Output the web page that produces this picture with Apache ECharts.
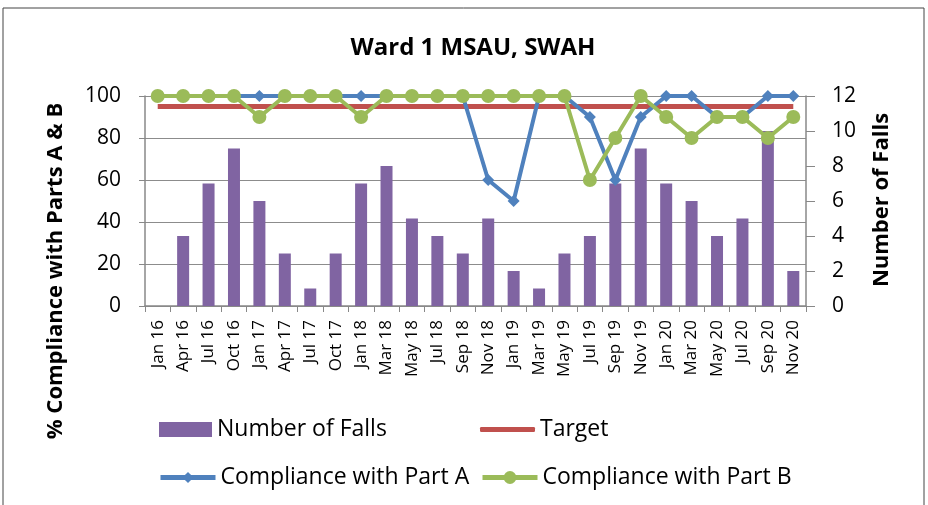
<!DOCTYPE html>
<html><head><meta charset="utf-8">
<script src="https://cdn.jsdelivr.net/npm/echarts@6/dist/echarts.min.js"></script>
<style>html,body{margin:0;padding:0;background:#fff}#c{width:928px;height:505px}</style>
</head><body><div id="c"></div>
<script>
const categories = ['Jan 16','Apr 16','Jul 16','Oct 16','Jan 17','Apr 17','Jul 17','Oct 17','Jan 18','Mar 18','May 18','Jul 18','Sep 18','Nov 18','Jan 19','Mar 19','May 19','Jul 19','Sep 19','Nov 19','Jan 20','Mar 20','May 20','Jul 20','Sep 20','Nov 20'];
const falls = [0,4,7,9,6,3,1,3,7,8,5,4,3,5,2,1,3,4,7,9,7,6,4,5,10,2];
const target = [95,95,95,95,95,95,95,95,95,95,95,95,95,95,95,95,95,95,95,95,95,95,95,95,95,95];
const partA = [100,100,100,100,100,100,100,100,100,100,100,100,100,60,50,100,100,90,60,90,100,100,90,90,100,100];
const partB = [100,100,100,100,90,100,100,100,90,100,100,100,100,100,100,100,100,60,80,100,90,80,90,90,80,90];

const font = 'Open Sans';
const chart = echarts.init(document.getElementById('c'));
const legendBase = {orient:'horizontal', itemWidth:55, itemHeight:14, textStyle:{fontSize:23, color:'#000', fontFamily:font}, lineStyle:{width:5}};
const axisTitle = {fontSize:22, fontWeight:'bold', fill:'#000', fontFamily:font, align:'center', verticalAlign:'middle'};
chart.setOption({
  animation:false,
  textStyle:{fontFamily:font},
  title:{text:'Ward 1 MSAU, SWAH', left:468, top:31, textAlign:'center', textStyle:{fontSize:24, fontWeight:'bold', color:'#000', fontFamily:font}},
  graphic:[
    {type:'rect', shape:{x:3, y:8, width:921, height:500}, style:{fill:'none', stroke:'#444', lineWidth:1}, silent:true},
    {type:'text', x:56, y:271, rotation:Math.PI/2, style:Object.assign({text:'% Compliance with Parts A & B'}, axisTitle), silent:true},
    {type:'text', x:882, y:200, rotation:Math.PI/2, style:Object.assign({text:'Number of Falls'}, axisTitle), silent:true}
  ],
  grid:{left:145, right:122, top:96, bottom:199},
  legend:[
    Object.assign({}, legendBase, {data:[{name:'Number of Falls', icon:'rect'}], left:154, top:413, itemWidth:53, itemHeight:15}),
    Object.assign({}, legendBase, {data:[{name:'Target', icon:'roundRect'}], left:475, top:413, itemHeight:5}),
    Object.assign({}, legendBase, {data:['Compliance with Part A'], left:153, top:461}),
    Object.assign({}, legendBase, {data:['Compliance with Part B'], left:475, top:461, itemHeight:16})
  ],
  xAxis:{type:'category', data:categories, boundaryGap:true,
    axisLine:{lineStyle:{color:'#888', width:1.5}},
    axisTick:{show:true, alignWithLabel:false, length:6, lineStyle:{color:'#888'}},
    axisLabel:{rotate:90, fontSize:17, color:'#000', interval:0, margin:14, fontFamily:font}},
  yAxis:[
    {type:'value', min:0, max:100, interval:20, position:'left',
      axisLine:{show:true, lineStyle:{color:'#888', width:1.5}},
      axisTick:{show:true, length:6, lineStyle:{color:'#888'}},
      axisLabel:{fontSize:21, color:'#000', margin:24, fontFamily:font},
      splitLine:{show:true, lineStyle:{color:'#8c8c8c', width:1.2}}},
    {type:'value', min:0, max:12, interval:2, position:'right',
      axisLine:{show:true, lineStyle:{color:'#888', width:1.5}},
      axisTick:{show:true, length:9, lineStyle:{color:'#888'}},
      axisLabel:{fontSize:21, color:'#000', margin:26, fontFamily:font},
      splitLine:{show:false}}
  ],
  series:[
    {name:'Number of Falls', type:'bar', yAxisIndex:1, data:falls, barWidth:12, itemStyle:{color:'#8064A2'}},
    {name:'Target', type:'line', yAxisIndex:0, data:target, symbol:'none', lineStyle:{color:'#C0504D', width:5}, itemStyle:{color:'#C0504D'}},
    {name:'Compliance with Part A', type:'line', yAxisIndex:0, data:partA, symbol:'diamond', symbolSize:12, lineStyle:{color:'#4F81BD', width:4}, itemStyle:{color:'#4F81BD'}},
    {name:'Compliance with Part B', type:'line', yAxisIndex:0, data:partB, symbol:'circle', symbolSize:14, lineStyle:{color:'#9BBB59', width:4}, itemStyle:{color:'#9BBB59'}}
  ]
});
</script></body></html>
